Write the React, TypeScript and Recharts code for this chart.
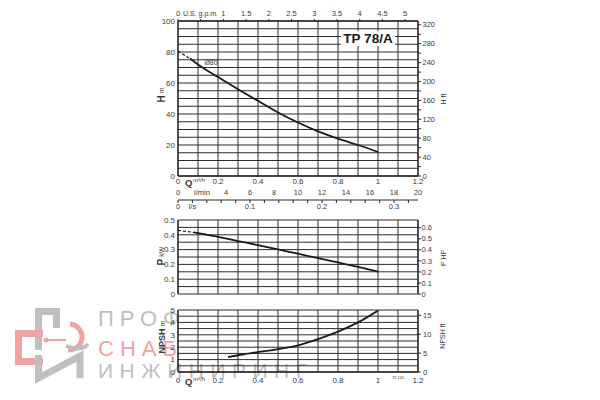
import React from 'react';
import { LineChart, Line, XAxis, YAxis, CartesianGrid, ReferenceDot } from 'recharts';

const FONT = '"Liberation Sans", Arial, Helvetica, sans-serif';
const INK = '#3a3a3a';
const GRID = '#2b2b2b';

// unit conversions (secondary axes)
const M3H_TO_GPM = 4.40287;
const M3H_TO_LMIN = 16.6667;
const M3H_TO_LS = 1 / 3.6;
const M_TO_FT = 3.28084;
const KW_TO_HP = 1.341;
const Q_MAX = 1.2;

// axis ids (alphabetical = stacking order)
const QID = 'a_q';
const LMINID = 'b_lmin';
const LSID = 'c_ls';
const GPMID = 'd_gpm';

// tick lists
const qTicks = [0, 0.1, 0.2, 0.3, 0.4, 0.5, 0.6, 0.7, 0.8, 0.9, 1.0, 1.1, 1.2];
const gpmTicks = [0, 0.5, 1, 1.5, 2, 2.5, 3, 3.5, 4, 4.5, 5];
const lminTicks = [0, 2, 4, 6, 8, 10, 12, 14, 16, 18, 20];
const lsTicks = [0, 0.02, 0.04, 0.06, 0.08, 0.1, 0.12, 0.14, 0.16, 0.18, 0.2, 0.22, 0.24, 0.26, 0.28, 0.3, 0.32];
const hmTicks = [0, 5, 10, 15, 20, 25, 30, 35, 40, 45, 50, 55, 60, 65, 70, 75, 80, 85, 90, 95, 100];
const hftTicks = [0, 20, 40, 60, 80, 100, 120, 140, 160, 180, 200, 220, 240, 260, 280, 300, 320];
const pkwTicks = [0, 0.05, 0.1, 0.15, 0.2, 0.25, 0.3, 0.35, 0.4, 0.45, 0.5];
const phpTicks = [0, 0.1, 0.2, 0.3, 0.4, 0.5, 0.6];
const npshmTicks = [0, 0.5, 1, 1.5, 2, 2.5, 3, 3.5, 4, 4.5, 5];
const npshftTicks = [0, 5, 10, 15];

// head curve (Q m³/h, H m)
const headDashQ = [0, 0.06];
const headDashM = [80.5, 75.8];
const headQ = [0.06, 0.1, 0.2, 0.3, 0.4, 0.5, 0.6, 0.7, 0.8, 0.9, 1.0];
const headM = [75.8, 72, 63.8, 56, 48.5, 41, 34.5, 28.8, 24.1, 20, 15.5];

// power curve (Q m³/h, P kW)
const powerDashQ = [0, 0.08];
const powerDashKW = [0.43, 0.416];
const powerQ = [0.08, 0.1, 0.2, 0.3, 0.4, 0.5, 0.6, 0.7, 0.8, 0.9, 1.0];
const powerKW = [0.416, 0.412, 0.386, 0.358, 0.33, 0.301, 0.272, 0.243, 0.213, 0.183, 0.152];

// NPSH curve (Q m³/h, NPSH m)
const npshQ = [0.25, 0.3, 0.4, 0.5, 0.6, 0.7, 0.8, 0.9, 1.0];
const npshM = [1.2, 1.35, 1.6, 1.85, 2.15, 2.65, 3.25, 4.0, 4.95];

const zip = (xs: number[], ys: number[]) => xs.map((q, i) => ({ q, v: ys[i] }));
const headDash = zip(headDashQ, headDashM);
const head = zip(headQ, headM);
const powerDash = zip(powerDashQ, powerDashKW);
const power = zip(powerQ, powerKW);
const npsh = zip(npshQ, npshM);

// domains
const dQ = [0, Q_MAX];
const dGpm = [0, Q_MAX * M3H_TO_GPM];
const dLmin = [0, Q_MAX * M3H_TO_LMIN];
const dLs = [0, Q_MAX * M3H_TO_LS];
const dHm = [0, 100];
const dHft = [0, 100 * M_TO_FT];
const dKw = [0, 0.5];
const dHp = [0, 0.5 * KW_TO_HP];
const dNm = [0, 5];
const dNft = [0, 5 * M_TO_FT];

const isMult = (v: number, step: number) => Math.abs(v / step - Math.round(v / step)) < 1e-6;
const fmt = (v: number) => String(Math.round(v * 1000) / 1000);

type Side = 'left' | 'right' | 'top' | 'bottom';
const tickText = (side: Side, label: (v: number) => string | null, size = 7.5) => (props: any) => {
  const { x, y, payload } = props;
  const s = label(payload.value);
  if (s === null) return <g />;
  const anchor = side === 'left' ? 'end' : side === 'right' ? 'start' : 'middle';
  const dy = side === 'bottom' ? '0.71em' : side === 'top' ? '-0.2em' : '0.35em';
  return (
    <text x={x} y={y} dy={dy} textAnchor={anchor} fontSize={size} fill={INK} fontFamily={FONT}>
      {s}
    </text>
  );
};

const qBottomTick = (extra: boolean) => (props: any) => {
  const { x, y, payload } = props;
  const v = payload.value;
  const parts: React.ReactNode[] = [];
  if (isMult(v, 0.2)) {
    parts.push(
      <text key="t" x={x} y={y} dy="0.71em" textAnchor="middle" fontSize={8} fill={INK} fontFamily={FONT}>
        {fmt(v)}
      </text>
    );
  }
  if (v === 0) {
    parts.push(
      <text key="q" x={x + 7} y={y + 1.5} dy="0.71em" fontSize={9.5} fontWeight="bold" fill={INK} fontFamily={FONT}>
        Q
      </text>
    );
    parts.push(
      <text key="u" x={x + 15} y={y - 0.5} dy="0.71em" fontSize={6} fill={INK} fontFamily={FONT}>
        m³/h
      </text>
    );
  }
  if (extra && Math.abs(v - 1.1) < 1e-6) {
    parts.push(
      <text key="c" x={x} y={y - 1} dy="0.71em" textAnchor="middle" fontSize={4} fill={INK} fontFamily={FONT}>
        72.145
      </text>
    );
  }
  return <g>{parts}</g>;
};

const gpmTick = (props: any) => {
  const { x, y, payload } = props;
  const v = payload.value;
  if (v === 0) {
    return (
      <g>
        <text x={x} y={y} dy="-0.2em" textAnchor="middle" fontSize={7.5} fill={INK} fontFamily={FONT}>0</text>
        <text x={x + 5} y={y} dy="-0.2em" textAnchor="start" fontSize={7} fill={INK} fontFamily={FONT}>U.S. g.p.m.</text>
      </g>
    );
  }
  if (v === 0.5) return <g />;
  return (
    <text x={x} y={y} dy="-0.2em" textAnchor="middle" fontSize={7.5} fill={INK} fontFamily={FONT}>
      {fmt(v)}
    </text>
  );
};

const qTickTop = qBottomTick(false);
const qTickBottom = qBottomTick(true);
const lminTick = tickText('bottom', (v) => (v === 2 ? 'l/min' : fmt(v)), 7.5);
const lsTick = tickText('bottom', (v) => (v === 0.02 ? 'l/s' : isMult(v, 0.1) ? fmt(v) : null), 7.5);
const hmTick = tickText('left', (v) => (isMult(v, 20) ? fmt(v) : null), 8);
const hftTick = tickText('right', (v) => (isMult(v, 40) ? fmt(v) : null));
const kwTick = tickText('left', (v) => (isMult(v, 0.1) ? fmt(v) : null), 8);
const hpTick = tickText('right', (v) => fmt(v));
const nmTick = tickText('left', (v) => (isMult(v, 1) ? fmt(v) : null), 8);
const nftTick = tickText('right', (v) => fmt(v));
const o80Label = { value: 'Ø80', position: 'center' as const, fontSize: 7, fill: INK, fontFamily: FONT };

const axisLine = { stroke: GRID, strokeWidth: 1.3 };
const thinAxisLine = { stroke: GRID, strokeWidth: 1 };
const tickLineStyle = { stroke: GRID, strokeWidth: 1 };
const LEFT = 148;
const RIGHT = 152;

const lineCommon = {
  xAxisId: QID,
  dataKey: 'v',
  type: 'monotone' as const,
  stroke: '#1a1a1a',
  strokeWidth: 1.8,
  dot: false,
  activeDot: false,
  isAnimationActive: false,
};

function HeadChart() {
  return (
    <LineChart width={600} height={212} data={head} margin={{ top: 8, right: RIGHT, bottom: 0, left: LEFT }}>
      <CartesianGrid xAxisId={QID} yAxisId="m" stroke={GRID} strokeWidth={1} syncWithTicks />
      <XAxis xAxisId={QID} dataKey="q" type="number" domain={dQ} allowDataOverflow ticks={qTicks}
        interval={0} height={12} tickSize={0} tickMargin={2} tick={qTickTop}
        axisLine={axisLine} tickLine={false} />
      <XAxis xAxisId={LMINID} dataKey="q" type="number" domain={dLmin} allowDataOverflow ticks={lminTicks}
        interval={0} height={12} tickSize={0} tickMargin={2} tick={lminTick} axisLine={false} tickLine={false} />
      <XAxis xAxisId={LSID} dataKey="q" type="number" domain={dLs} allowDataOverflow ticks={lsTicks}
        interval={0} height={12} tickSize={3} tickMargin={1} tick={lsTick}
        axisLine={thinAxisLine} tickLine={tickLineStyle} />
      <XAxis xAxisId={GPMID} dataKey="q" orientation="top" type="number" domain={dGpm} allowDataOverflow
        ticks={gpmTicks} interval={0} height={13} tickSize={2} tickMargin={2} tick={gpmTick}
        axisLine={axisLine} tickLine={tickLineStyle} />
      <YAxis yAxisId="m" type="number" domain={dHm} allowDataOverflow ticks={hmTicks} interval={0}
        width={30} tickSize={0} tickMargin={3} axisLine={axisLine} tickLine={false} tick={hmTick} />
      <YAxis yAxisId="ft" orientation="right" type="number" domain={dHft} allowDataOverflow
        ticks={hftTicks} interval={0} width={30} tickSize={3} tickMargin={1.5} axisLine={axisLine}
        tickLine={tickLineStyle} tick={hftTick} />
      <Line {...lineCommon} yAxisId="m" data={headDash} strokeDasharray="3 2" strokeWidth={1.2} />
      <Line {...lineCommon} yAxisId="m" data={head} />
      <ReferenceDot xAxisId={QID} yAxisId="m" x={0.165} y={73.5} r={0} fill="none" stroke="none" label={o80Label} />
    </LineChart>
  );
}

function PowerChart() {
  return (
    <LineChart width={600} height={88} data={power} margin={{ top: 8, right: RIGHT, bottom: 6, left: LEFT }}>
      <CartesianGrid xAxisId={QID} yAxisId="kw" stroke={GRID} strokeWidth={1} syncWithTicks />
      <XAxis xAxisId={QID} dataKey="q" type="number" domain={dQ} allowDataOverflow ticks={qTicks}
        interval={0} hide />
      <YAxis yAxisId="kw" type="number" domain={dKw} allowDataOverflow ticks={pkwTicks} interval={0}
        width={30} tickSize={0} tickMargin={3} axisLine={axisLine} tickLine={false} tick={kwTick} />
      <YAxis yAxisId="hp" orientation="right" type="number" domain={dHp} allowDataOverflow
        ticks={phpTicks} interval={0} width={30} tickSize={3} tickMargin={0.5} axisLine={axisLine}
        tickLine={tickLineStyle} tick={hpTick} />
      <Line {...lineCommon} yAxisId="kw" data={powerDash} strokeDasharray="3 2" strokeWidth={1.2} />
      <Line {...lineCommon} yAxisId="kw" data={power} />
    </LineChart>
  );
}

function NpshChart() {
  return (
    <LineChart width={600} height={100} data={npsh} margin={{ top: 10, right: RIGHT, bottom: 12, left: LEFT }}>
      <CartesianGrid xAxisId={QID} yAxisId="nm" stroke={GRID} strokeWidth={1} syncWithTicks />
      <XAxis xAxisId={QID} dataKey="q" type="number" domain={dQ} allowDataOverflow ticks={qTicks}
        interval={0} height={16} tickSize={0} tickMargin={5} tick={qTickBottom}
        axisLine={axisLine} tickLine={false} />
      <YAxis yAxisId="nm" type="number" domain={dNm} allowDataOverflow ticks={npshmTicks} interval={0}
        width={30} tickSize={0} tickMargin={3} axisLine={axisLine} tickLine={false} tick={nmTick} />
      <YAxis yAxisId="nft" orientation="right" type="number" domain={dNft} allowDataOverflow
        ticks={npshftTicks} interval={0} width={30} tickSize={3} tickMargin={2} axisLine={axisLine}
        tickLine={tickLineStyle} tick={nftTick} />
      <Line {...lineCommon} yAxisId="nm" data={npsh} />
    </LineChart>
  );
}

const Rot = ({ x, y, children, size = 7 }: { x: number; y: number; children: React.ReactNode; size?: number }) => (
  <text transform={`translate(${x},${y}) rotate(-90)`} textAnchor="middle" dominantBaseline="central"
    fontSize={size} fill={INK} fontFamily={FONT}>
    {children}
  </text>
);

function Watermark() {
  const gray = '#bfbfbf';
  const red = '#f0a3a3';
  return (
    <svg width={600} height={400} style={{ position: 'absolute', left: 0, top: 0 }}>
      <path d="M38.5,350 V311.5 H56.5 V328" stroke={gray} strokeWidth={7} fill="none" />
      <path d="M43,333.5 H18.5 V361.5 H43" stroke={red} strokeWidth={7} fill="none" />
      <path d="M70,324 A13,13 0 1 1 68,350" stroke={red} strokeWidth={5} fill="none" />
      <line x1={46} y1={340} x2={66} y2={340} stroke={red} strokeWidth={2} />
      <circle cx={46} cy={340} r={2.5} fill={red} />
      <path d="M38.5,355 V378 L80,356 V378" stroke={gray} strokeWidth={7} fill="none" />
      <path d="M66,346 Q82,352 88,344" stroke={gray} strokeWidth={4} fill="none" />
      <text x={98} y={326} fontSize={22} letterSpacing={6} fill={gray} fontFamily={FONT}>ПРОФ</text>
      <text x={98} y={356} fontSize={22} letterSpacing={6} fill={red} fontFamily={FONT}>СНАБ</text>
      <text x={98} y={378} fontSize={21} letterSpacing={6.5} fill={gray} fontFamily={FONT}>ИНЖИНИРИНГ</text>
    </svg>
  );
}

function Overlay() {
  return (
    <svg width={600} height={400} style={{ position: 'absolute', left: 0, top: 0, pointerEvents: 'none' }}>
      <rect x={341} y={31} width={54} height={15} fill="#fff" />
      <text x={368} y={38.5} textAnchor="middle" dominantBaseline="central" fontSize={13.5} fontWeight="bold"
        fill="#1a1a1a" fontFamily={FONT}>TP 78/A</text>

      <Rot x={161} y={95}>
        <tspan fontSize={10} fontWeight="bold">H</tspan>
        <tspan fontSize={7} dx={2}>m</tspan>
      </Rot>
      <Rot x={443} y={99}>H ft</Rot>

      <Rot x={161} y={256}>
        <tspan fontSize={10} fontWeight="bold">P</tspan>
        <tspan fontSize={7} dx={2}>kW</tspan>
      </Rot>
      <Rot x={443} y={258}>P HP</Rot>

      <Rot x={162} y={337}>
        <tspan fontSize={9} fontWeight="bold">NPSH</tspan>
        <tspan fontSize={7} dx={2}>m</tspan>
      </Rot>
      <Rot x={442} y={336}>NPSH ft</Rot>
    </svg>
  );
}

export default function App() {
  return (
    <div style={{ position: 'absolute', left: 0, top: 0, width: 600, height: 400, background: '#fff', overflow: 'hidden' }}>
      <Watermark />
      <div style={{ position: 'absolute', left: 0, top: 0 }}>
        <HeadChart />
      </div>
      <div style={{ position: 'absolute', left: 0, top: 212 }}>
        <PowerChart />
      </div>
      <div style={{ position: 'absolute', left: 0, top: 300 }}>
        <NpshChart />
      </div>
      <Overlay />
    </div>
  );
}
